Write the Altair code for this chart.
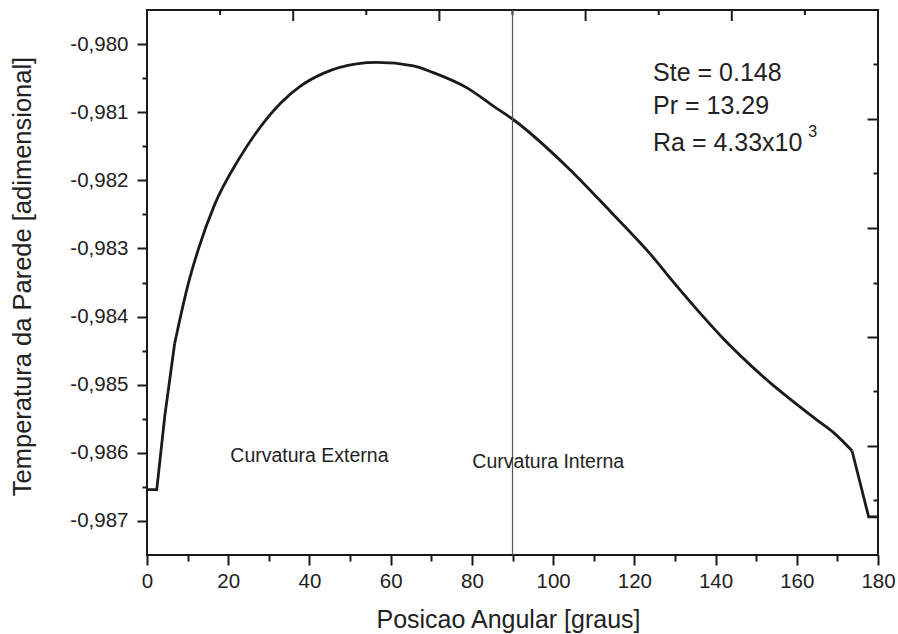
import altair as alt
import pandas as pd

# ---- data ----
# straight end pieces of the curve
left_angle = [0, 2.4, 4.4, 6.8]
left_temp = [-0.98654, -0.98654, -0.98545, -0.98440]
right_angle = [173.6, 177.7, 180.0]
right_temp = [-0.98597, -0.98694, -0.98694]
# smooth body of the curve
body_angle = [6.8, 7.7, 10.2, 12.6, 16.7, 22.5, 27.0, 33.0, 37.7, 43.4, 51.6, 56.6,
              65.6, 70.5, 78.7, 85.3, 90.0, 103.4, 114.0, 123.9, 130.0, 136.2, 142.0,
              148.0, 154.0, 160.0, 165.0, 169.0, 173.6]
body_temp = [-0.98440, -0.98415, -0.98351, -0.98302, -0.98235, -0.98170, -0.98129,
             -0.98086, -0.98062, -0.98043, -0.98029, -0.98027, -0.98032, -0.98042,
             -0.98064, -0.98091, -0.98110, -0.98180, -0.98245, -0.98308, -0.98352,
             -0.98395, -0.98433, -0.98468, -0.98500, -0.98529, -0.98552, -0.98570,
             -0.98597]

x_major = [0, 20, 40, 60, 80, 100, 120, 140, 160, 180]
x_minor = [10, 30, 50, 70, 90, 110, 130, 150, 170]
y_major = [-0.987, -0.986, -0.985, -0.984, -0.983, -0.982, -0.981, -0.980]
y_minor = [-0.9865, -0.9855, -0.9845, -0.9835, -0.9825, -0.9815, -0.9805]
top_major = [36, 72, 108, 144]
top_minor = [18, 54, 90, 126, 162]
right_major = [-0.9811, -0.9827, -0.9843, -0.9859]
right_minor = [-0.9803, -0.9819, -0.9835, -0.9851, -0.9867]

divider = [90]
region_labels = ["Curvatura Externa", "Curvatura Interna"]
region_x = [40.0, 98.8]
region_y = [-0.98604, -0.98614]
params = ["Ste = 0.148", "Pr = 13.29", "Ra = 4.33x10"]
params_x = [124.6, 124.6, 124.6]
params_y = [-0.98043, -0.98091, -0.98145]
sup_text = ["3"]
sup_x = [162.8]
sup_y = [-0.98129]

W, H = 731, 545
FONT = "Liberation Sans"
INK = "#1a1a1a"

xs = alt.Scale(domain=[0, 180], nice=False, zero=False)
ys = alt.Scale(domain=[-0.9875, -0.9795], nice=False, zero=False)

ylab = "replace(replace(format(datum.value, '.3f'), '.', ','), '\u2212', '-')"


def ax(orient, values, size, labels=False, title=None, offset=0, **kw):
    d = dict(orient=orient, values=values, tickSize=size, tickWidth=2,
             tickColor=INK, domain=False, grid=False, labels=labels,
             offset=offset, title=title)
    d.update(kw)
    return alt.Axis(**d)


body_df = pd.DataFrame({"angle": body_angle, "temp": body_temp})
ends_df = pd.DataFrame({
    "angle": left_angle + right_angle,
    "temp": left_temp + right_temp,
    "seg": ["a"] * len(left_angle) + ["b"] * len(right_angle),
})

curve = alt.Chart(body_df).mark_line(color=INK, strokeWidth=2.8, interpolate="monotone").encode(
    x=alt.X("angle:Q", scale=xs,
            axis=ax("bottom", x_major, 10, labels=True,
                    title="Posicao Angular [graus]", labelFontSize=20.5,
                    labelFont=FONT, labelColor="#222", labelPadding=6,
                    labelFlush=False, labelOverlap=False,
                    titleFont=FONT, titleFontSize=25, titleFontWeight="normal",
                    titleColor="#222", titlePadding=16, titleX=361)),
    y=alt.Y("temp:Q", scale=ys,
            axis=ax("left", y_major, 10, labels=True,
                    title="Temperatura da Parede [adimensional]",
                    labelExpr=ylab, labelFontSize=20.5, labelFont=FONT,
                    labelColor="#222", labelPadding=9, labelOverlap=False,
                    titleFont=FONT, titleFontSize=25.5, titleFontWeight="normal",
                    titleColor="#222", titlePadding=34, titleY=266)),
)

ends = alt.Chart(ends_df).mark_line(color=INK, strokeWidth=2.8).encode(
    x=alt.X("angle:Q", scale=xs, axis=ax("bottom", x_minor, 6)),
    y=alt.Y("temp:Q", scale=ys, axis=ax("left", y_minor, 5)),
    detail="seg:N",
)

mirror_major = alt.Chart(body_df).mark_line(opacity=0).encode(
    x=alt.X("angle:Q", scale=xs, axis=None),
    y=alt.Y("temp:Q", scale=ys, axis=ax("right", right_major, 11, offset=-11)),
)

mirror_minor = alt.Chart(body_df).mark_line(opacity=0).encode(
    x=alt.X("angle:Q", scale=xs, axis=None),
    y=alt.Y("temp:Q", scale=ys, axis=ax("right", right_minor, 5, offset=-5)),
)

# inward ticks along the top border (positions from the tick value arrays)
top_major_ticks = alt.Chart(pd.DataFrame({"v": top_major})).mark_rule(
    color=INK, strokeWidth=2).encode(
    x=alt.X("v:Q", scale=xs, axis=None), y=alt.value(0), y2=alt.value(11))
top_minor_ticks = alt.Chart(pd.DataFrame({"v": top_minor})).mark_rule(
    color=INK, strokeWidth=2).encode(
    x=alt.X("v:Q", scale=xs, axis=None), y=alt.value(0), y2=alt.value(5))

rule = alt.Chart(pd.DataFrame({"x": divider})).mark_rule(
    color="#555", strokeWidth=1.2).encode(
    x=alt.X("x:Q", scale=xs, axis=None))

regions = alt.Chart(pd.DataFrame({"t": region_labels, "x": region_x, "y": region_y})).mark_text(
    font=FONT, fontSize=19.5, color="#222", align="center", baseline="middle").encode(
    x=alt.X("x:Q", scale=xs, axis=None), y=alt.Y("y:Q", scale=ys, axis=None), text="t:N")

ptext = alt.Chart(pd.DataFrame({"t": params, "x": params_x, "y": params_y})).mark_text(
    font=FONT, fontSize=25, color="#222", align="left", baseline="middle").encode(
    x=alt.X("x:Q", scale=xs, axis=None), y=alt.Y("y:Q", scale=ys, axis=None), text="t:N")

sup = alt.Chart(pd.DataFrame({"t": sup_text, "x": sup_x, "y": sup_y})).mark_text(
    font=FONT, fontSize=16, color="#222", align="left", baseline="middle").encode(
    x=alt.X("x:Q", scale=xs, axis=None), y=alt.Y("y:Q", scale=ys, axis=None), text="t:N")

chart = alt.layer(curve, ends, mirror_major, mirror_minor, top_major_ticks, top_minor_ticks,
                  rule, regions, ptext, sup).resolve_axis(
    x="independent", y="independent"
).properties(
    width=W, height=H,
    autosize=alt.AutoSizeParams(type="none"),
    padding={"left": 147, "top": 10, "right": 20, "bottom": 79},
    background="white",
).configure_view(stroke=INK, strokeWidth=2)

chart.save("out.html", embed_options={"renderer": "svg", "actions": False})
